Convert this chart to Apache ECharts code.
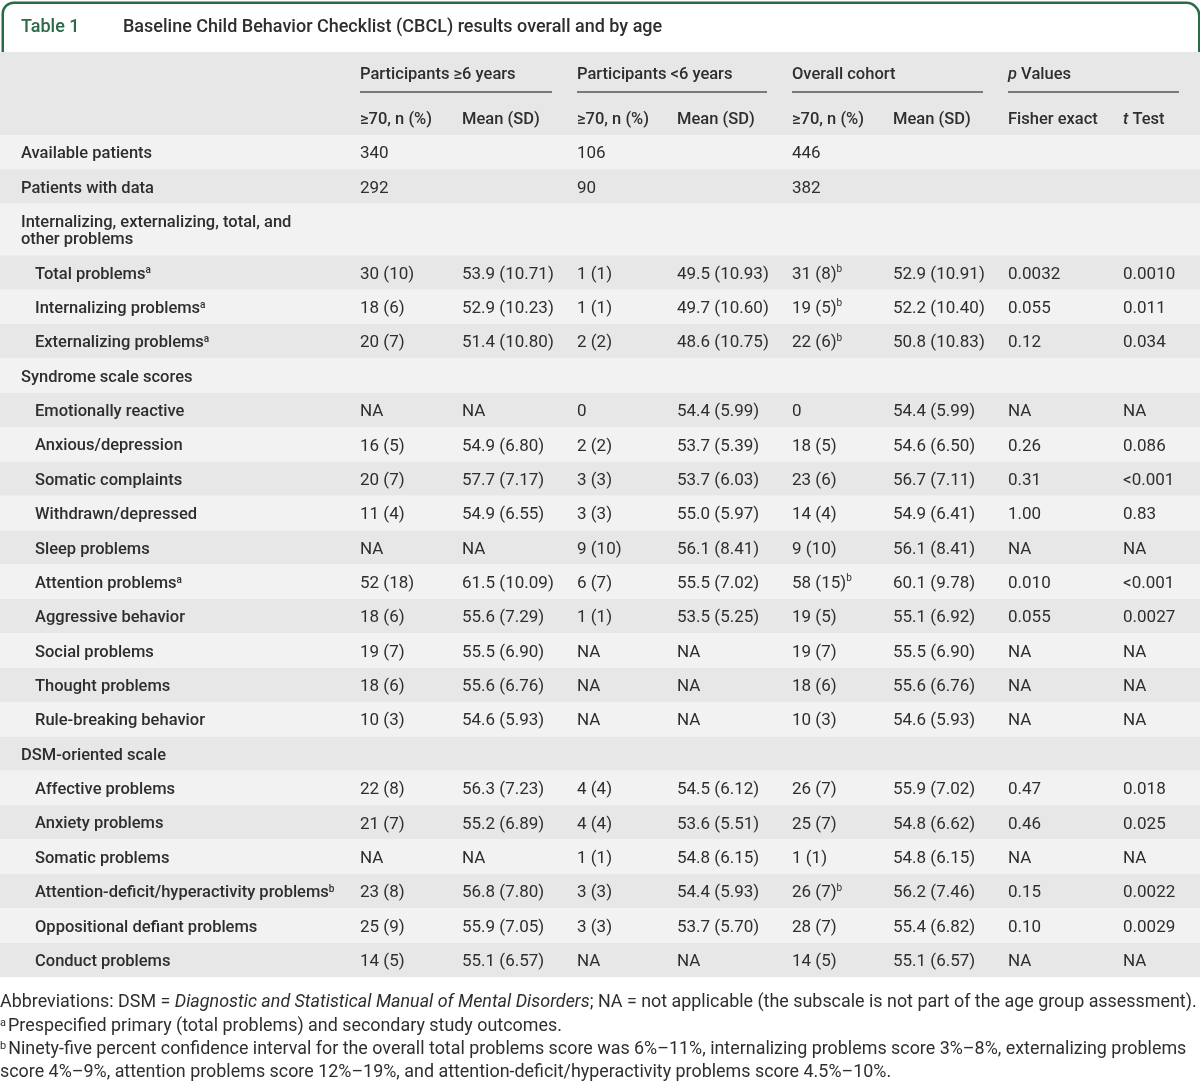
<!DOCTYPE html>
<html><head><meta charset="utf-8">
<script src="https://cdn.jsdelivr.net/npm/echarts@6/dist/echarts.min.js"></script>
<style>html,body{margin:0;padding:0;background:#fff}#c{width:1200px;height:1081px}</style>
</head><body><div id="c"></div>
<script>
// ---------------- DATA ----------------
const tableLabel = "Table 1";
const tableTitle = "Baseline Child Behavior Checklist (CBCL) results overall and by age";
const groupHeaders = ["Participants ≥6 years", "Participants <6 years", "Overall cohort", "{i|p} Values"];
const subHeaders = ["≥70, n (%)", "Mean (SD)", "≥70, n (%)", "Mean (SD)", "≥70, n (%)", "Mean (SD)", "Fisher exact", "{i|t} Test"];

const rowLabels = [
  "Available patients", "Patients with data",
  "Internalizing, externalizing, total, and\nother problems",
  "Total problems^a", "Internalizing problems^a", "Externalizing problems^a",
  "Syndrome scale scores",
  "Emotionally reactive", "Anxious/depression", "Somatic complaints", "Withdrawn/depressed",
  "Sleep problems", "Attention problems^a", "Aggressive behavior", "Social problems",
  "Thought problems", "Rule-breaking behavior",
  "DSM-oriented scale",
  "Affective problems", "Anxiety problems", "Somatic problems",
  "Attention-deficit/hyperactivity problems^b", "Oppositional defiant problems", "Conduct problems"
];
const sectionRows = [0, 1, 2, 6, 17];

const olderN = ["340","292","","30 (10)","18 (6)","20 (7)","","NA","16 (5)","20 (7)","11 (4)","NA","52 (18)","18 (6)","19 (7)","18 (6)","10 (3)","","22 (8)","21 (7)","NA","23 (8)","25 (9)","14 (5)"];
const olderMean = ["","","","53.9 (10.71)","52.9 (10.23)","51.4 (10.80)","","NA","54.9 (6.80)","57.7 (7.17)","54.9 (6.55)","NA","61.5 (10.09)","55.6 (7.29)","55.5 (6.90)","55.6 (6.76)","54.6 (5.93)","","56.3 (7.23)","55.2 (6.89)","NA","56.8 (7.80)","55.9 (7.05)","55.1 (6.57)"];
const youngN = ["106","90","","1 (1)","1 (1)","2 (2)","","0","2 (2)","3 (3)","3 (3)","9 (10)","6 (7)","1 (1)","NA","NA","NA","","4 (4)","4 (4)","1 (1)","3 (3)","3 (3)","NA"];
const youngMean = ["","","","49.5 (10.93)","49.7 (10.60)","48.6 (10.75)","","54.4 (5.99)","53.7 (5.39)","53.7 (6.03)","55.0 (5.97)","56.1 (8.41)","55.5 (7.02)","53.5 (5.25)","NA","NA","NA","","54.5 (6.12)","53.6 (5.51)","54.8 (6.15)","54.4 (5.93)","53.7 (5.70)","NA"];
const overallN = ["446","382","","31 (8)^b","19 (5)^b","22 (6)^b","","0","18 (5)","23 (6)","14 (4)","9 (10)","58 (15)^b","19 (5)","19 (7)","18 (6)","10 (3)","","26 (7)","25 (7)","1 (1)","26 (7)^b","28 (7)","14 (5)"];
const overallMean = ["","","","52.9 (10.91)","52.2 (10.40)","50.8 (10.83)","","54.4 (5.99)","54.6 (6.50)","56.7 (7.11)","54.9 (6.41)","56.1 (8.41)","60.1 (9.78)","55.1 (6.92)","55.5 (6.90)","55.6 (6.76)","54.6 (5.93)","","55.9 (7.02)","54.8 (6.62)","54.8 (6.15)","56.2 (7.46)","55.4 (6.82)","55.1 (6.57)"];
const fisherP = ["","","","0.0032","0.055","0.12","","NA","0.26","0.31","1.00","NA","0.010","0.055","NA","NA","NA","","0.47","0.46","NA","0.15","0.10","NA"];
const tTestP = ["","","","0.0010","0.011","0.034","","NA","0.086","<0.001","0.83","NA","<0.001","0.0027","NA","NA","NA","","0.018","0.025","NA","0.0022","0.0029","NA"];

const footnotes = [
  "Abbreviations: DSM = {i|Diagnostic and Statistical Manual of Mental Disorders}; NA = not applicable (the subscale is not part of the age group assessment).",
  "{sup|a}Prespecified primary (total problems) and secondary study outcomes.",
  "{sup|b}Ninety-five percent confidence interval for the overall total problems score was 6%–11%, internalizing problems score 3%–8%, externalizing problems",
  "score 4%–9%, attention problems score 12%–19%, and attention-deficit/hyperactivity problems score 4.5%–10%."
];

// ---------------- LAYOUT / STYLE ----------------
const columns = [olderN, olderMean, youngN, youngMean, overallN, overallMean, fisherP, tTestP];
const colX = [360, 462, 577, 677, 792, 893, 1008, 1123];
const groupX = [[360, 552], [577, 767], [792, 983], [1008, 1179]];
const GREEN = '#2b6a48';
const TXT = '#2e2e2e';
const FONT = "Roboto, 'Liberation Sans', Arial, sans-serif";
const FOOTFONT = "Roboto, 'Liberation Sans', sans-serif";
const FOOTSIZE = 17.9;
const LIGHT = '#f2f2f2', DARK = '#e6e7e6';
const DY = 2; // baseline correction for the font

const rowSpan = rowLabels.map(l => l.indexOf('\n') >= 0 ? 1.5 : 1);
const rowStart = [];
rowSpan.reduce((acc, s, i) => { rowStart[i] = acc; return acc + s; }, 0);
const totalUnits = rowSpan.reduce((a, b) => a + b, 0);

const supify = s => s.replace(/\^(\w)/g, '{sup|$1}');
const supStyle = { fontSize: 10, verticalAlign: 'top', lineHeight: 12, fontFamily: FONT, fill: TXT };

function renderItem(params, api) {
  const i = params.dataIndex;
  const yTop = api.coord([0, rowStart[i]])[1];
  const yBot = api.coord([0, rowStart[i] + rowSpan[i]])[1];
  const xL = api.coord([0, 0])[0];
  const xR = api.coord([1200, 0])[0];
  const yMid = (yTop + yBot) / 2 + DY;
  const isSection = sectionRows.indexOf(i) >= 0;
  const children = [{
    type: 'rect',
    shape: { x: xL, y: yTop, width: xR - xL, height: yBot - yTop },
    style: { fill: i % 2 === 0 ? LIGHT : DARK }
  }, {
    type: 'text',
    x: api.coord([isSection ? 21 : 35, 0])[0], y: yMid,
    style: {
      text: supify(rowLabels[i]), fill: TXT, fontSize: 16.5, fontWeight: 500,
      fontFamily: FONT, verticalAlign: 'middle', align: 'left', lineHeight: 17,
      rich: { sup: Object.assign({}, supStyle, { fontWeight: 500 }) }
    }
  }];
  columns.forEach((col, c) => {
    if (!col[i]) return;
    children.push({
      type: 'text',
      x: api.coord([colX[c], 0])[0], y: yMid,
      style: {
        text: supify(col[i]), fill: TXT, fontSize: 17, fontFamily: FONT,
        verticalAlign: 'middle', align: 'left', lineHeight: 20,
        rich: { sup: supStyle }
      }
    });
  });
  return { type: 'group', children };
}

const graphics = [
  { type: 'rect', left: 1.5, top: 1.5, shape: { x: 0, y: 0, width: 1196.5, height: 56, r: [11, 13, 0, 0] },
    style: { fill: '#fff', stroke: GREEN, lineWidth: 2.5 }, z: 1 },
  { type: 'rect', left: 0, top: 52, shape: { x: 0, y: 0, width: 1200, height: 83 }, style: { fill: DARK }, z: 2 },
  { type: 'text', x: 21, y: 25 + DY, z: 3, style: { text: tableLabel, fill: GREEN, fontSize: 18, fontWeight: 500, fontFamily: FONT, verticalAlign: 'middle' } },
  { type: 'text', x: 123, y: 25 + DY, z: 3, style: { text: tableTitle, fill: TXT, fontSize: 18, fontWeight: 500, fontFamily: FONT, verticalAlign: 'middle' } }
];
const italicHdr = { fontStyle: 'italic', fontWeight: 500, fontSize: 16.5, fontFamily: FONT, fill: TXT };
groupHeaders.forEach((g, k) => {
  graphics.push({ type: 'text', x: groupX[k][0], y: 73 + DY, z: 3,
    style: { text: g, fill: TXT, fontSize: 16.5, fontWeight: 500, fontFamily: FONT, verticalAlign: 'middle', rich: { i: italicHdr } } });
  graphics.push({ type: 'line', z: 3, shape: { x1: groupX[k][0], y1: 92, x2: groupX[k][1], y2: 92 },
    style: { stroke: '#7a7a7a', lineWidth: 2 } });
});
subHeaders.forEach((s, k) => {
  graphics.push({ type: 'text', x: colX[k], y: 117.5 + DY, z: 3,
    style: { text: s, fill: TXT, fontSize: 16.5, fontWeight: 500, fontFamily: FONT, verticalAlign: 'middle', rich: { i: italicHdr } } });
});
const footY = [1001, 1025, 1048, 1071];
footnotes.forEach((f, k) => {
  graphics.push({ type: 'text', x: 0, y: footY[k] + DY, z: 3,
    style: { text: f, fill: TXT, fontSize: FOOTSIZE, fontFamily: FOOTFONT, verticalAlign: 'middle',
      rich: {
        i: { fontStyle: 'italic', fontSize: FOOTSIZE, fontFamily: FOOTFONT, fill: TXT },
        sup: { fontSize: 11, verticalAlign: 'top', lineHeight: 14, fontFamily: FOOTFONT, fill: TXT, padding: [0, 2, 0, 0] }
      } } });
});

const chart = echarts.init(document.getElementById('c'), null, { renderer: 'canvas' });
chart.setOption({
  animation: false,
  backgroundColor: '#fff',
  grid: { left: 0, right: 0, top: 135, bottom: 104 },
  xAxis: { type: 'value', min: 0, max: 1200, show: false },
  yAxis: { type: 'value', min: 0, max: totalUnits, inverse: true, show: false },
  graphic: graphics,
  series: [{
    type: 'custom',
    renderItem: renderItem,
    data: rowLabels.map((_, i) => [colX[0], rowStart[i]]),
    clip: false
  }]
});
</script>
</body></html>
